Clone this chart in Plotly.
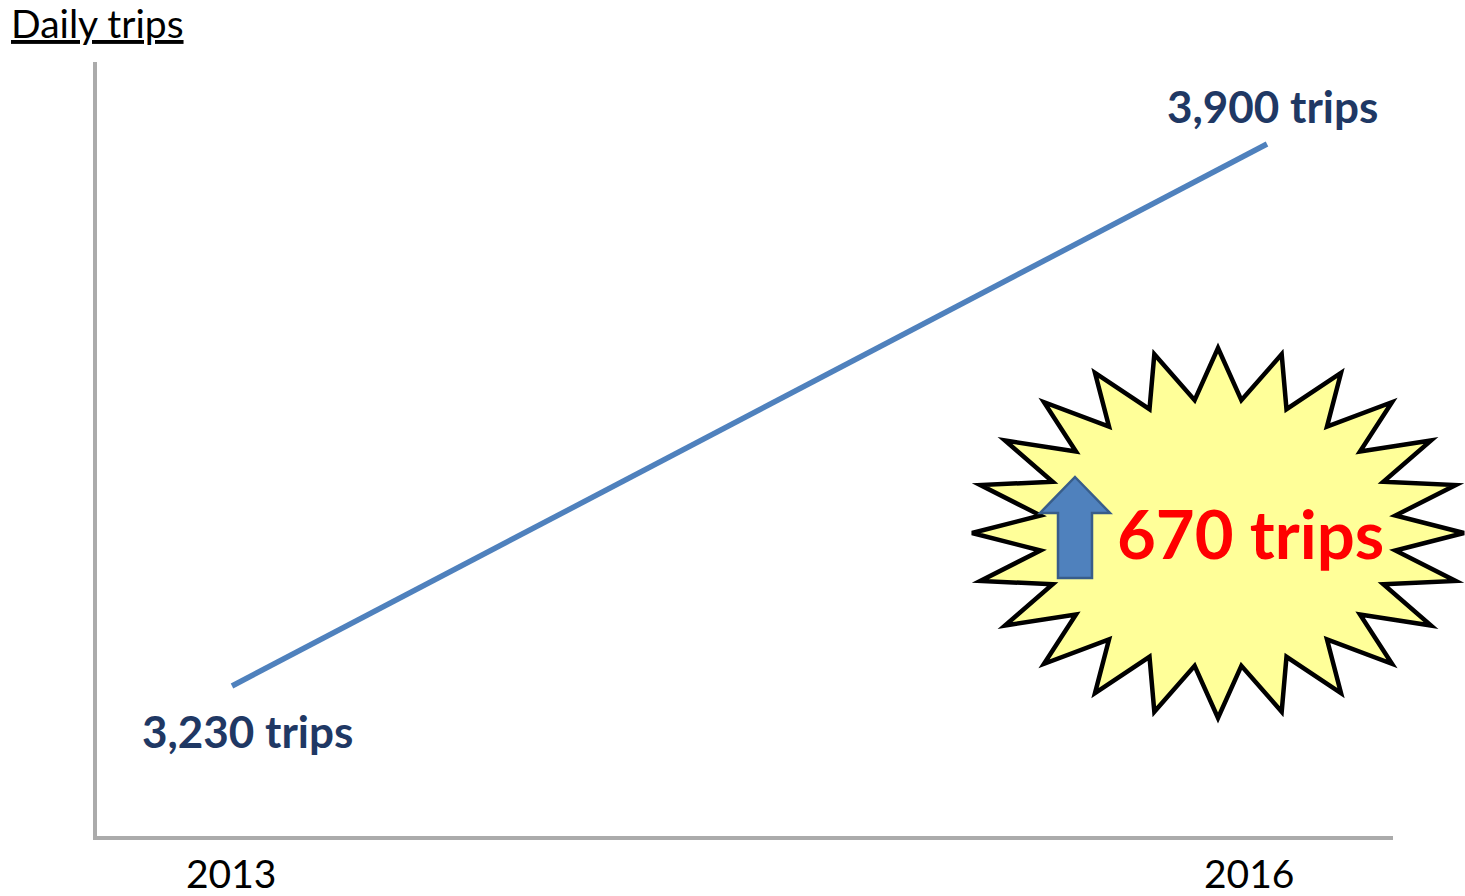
import math
import plotly.graph_objects as go

# ---- data ----
years = [2013, 2016]
trips = [3230, 3900]
point_labels = ["3,230 trips", "3,900 trips"]
tick_years = [2013, 2016]
tick_labels = ["2013", "2016"]
increase_label = "670 trips"
y_title = "Daily trips"

W, H = 1465, 896
ML, MR, MT, MB = 97, 72, 62, 60
PW, PH = W - ML - MR, H - MT - MB


def px(x):
    return (x - ML) / PW


def py(y):
    return (H - MB - y) / PH


fig = go.Figure()
fig.add_trace(go.Scatter(
    x=years, y=trips, mode="lines",
    line=dict(color="#4F81BD", width=5.5),
    hoverinfo="skip", showlegend=False,
))

NAVY = "#1F3864"
FONT = "Lato"
annotations = []
# data labels
annotations.append(dict(x=years[0], y=trips[0], xref="x", yref="y",
                        xanchor="center", yanchor="middle",
                        text="<b>%s</b>" % point_labels[0], showarrow=False,
                        xshift=15, yshift=-45,
                        font=dict(family=FONT, size=44, color=NAVY)))
annotations.append(dict(x=years[1], y=trips[1], xref="x", yref="y",
                        xanchor="center", yanchor="middle",
                        text="<b>%s</b>" % point_labels[1], showarrow=False,
                        xshift=5, yshift=38,
                        font=dict(family=FONT, size=44, color=NAVY)))
# x tick labels
shifts = [-1, -18]
for yv, lab, s in zip(tick_years, tick_labels, shifts):
    annotations.append(dict(x=yv, y=0, xref="x", yref="paper", text=lab,
                            xanchor="center", showarrow=False, yanchor="top",
                            yshift=-12, xshift=s,
                            font=dict(family=FONT, size=39, color="#000000")))
# y title
annotations.append(dict(x=px(9), y=py(-2), xref="paper", yref="paper",
                        xanchor="left", yanchor="top", showarrow=False,
                        text="<u>%s</u>" % y_title,
                        font=dict(family=FONT, size=39, color="#000000")))
# burst label
annotations.append(dict(x=px(1250), y=py(533), xref="paper", yref="paper",
                        xanchor="center", yanchor="middle",
                        showarrow=False, text="<b>%s</b>" % increase_label,
                        font=dict(family=FONT, size=67, color="#FF0000")))

# starburst shape (decoration)
cx, cy = 1218, 533
pts = []
n = 24
for i in range(2 * n):
    ang = math.pi * i / n
    if i % 2 == 0:
        rx, ry = 246, 185
    else:
        rx, ry = 179, 134
    pts.append((cx + rx * math.sin(ang), cy - ry * math.cos(ang)))
path = "M " + " L ".join("%.5f,%.5f" % (px(a), py(b)) for a, b in pts) + " Z"

arrow_px = [(1075, 477), (1110, 513), (1092, 513), (1092, 578),
            (1058, 578), (1058, 513), (1040, 513)]
arrow_path = "M " + " L ".join("%.5f,%.5f" % (px(a), py(b)) for a, b in arrow_px) + " Z"

shapes = [
    dict(type="path", path=path, xref="paper", yref="paper",
         fillcolor="#FFFF99", line=dict(color="#000000", width=4.5), layer="above"),
    dict(type="path", path=arrow_path, xref="paper", yref="paper",
         fillcolor="#4F81BD", line=dict(color="#385D8A", width=2.5), layer="above"),
]

x_lo = 2013 - (232 - 97) / 345
x_hi = 2016 + (1393 - 1267) / 345
y_per = (686 - 144) / 670
y_lo = 3230 - (836 - 686) / y_per
y_hi = 3900 + (144 - 62) / y_per

fig.update_layout(
    width=W, height=H,
    margin=dict(l=ML, r=MR, t=MT, b=MB, pad=0),
    paper_bgcolor="white", plot_bgcolor="white",
    xaxis=dict(range=[x_lo, x_hi], showgrid=False, zeroline=False,
               showticklabels=False, showline=True, linecolor="#ABABAB",
               linewidth=4, ticks=""),
    yaxis=dict(range=[y_lo, y_hi], showgrid=False, zeroline=False,
               showticklabels=False, showline=True, linecolor="#ABABAB",
               linewidth=4, ticks=""),
    annotations=annotations,
    shapes=shapes,
    showlegend=False,
)

fig.write_html("out.html")
